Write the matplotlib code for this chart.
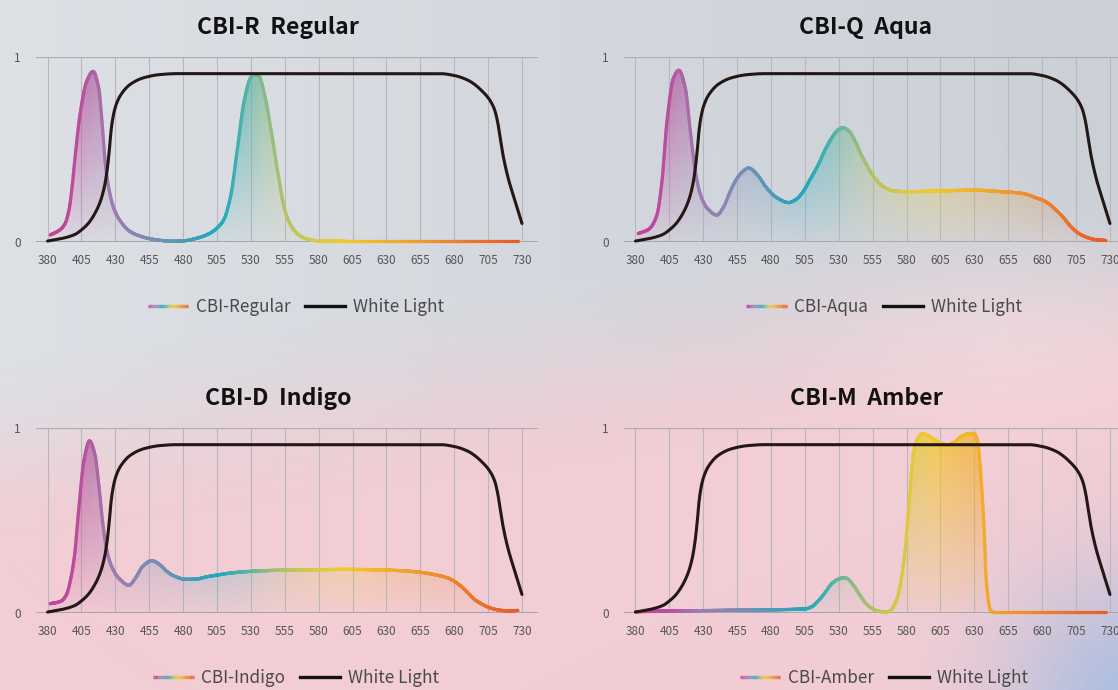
import numpy as np
import matplotlib
matplotlib.use("Agg")
from matplotlib import pyplot as plt
from matplotlib.collections import LineCollection
from matplotlib.colors import LinearSegmentedColormap, to_rgb
from matplotlib.legend_handler import HandlerBase
from matplotlib.patches import Polygon

plt.rcParams['font.family'] = ['Noto Sans CJK SC', 'DejaVu Sans']

# wavelength ticks
ticks = list(range(380, 731, 25))

# white light reference (same in every panel)
white_x = [380, 390, 400, 405, 410, 415, 419, 422, 424, 425.5, 427, 429, 431, 434, 441, 451, 463, 475,
           670, 680, 690, 695, 700, 705, 708, 710, 712, 714, 716, 720, 725, 730]
white_y = [0.005, 0.018, 0.04, 0.065, 0.10, 0.155, 0.22, 0.30, 0.39, 0.49, 0.61, 0.70, 0.75, 0.795, 0.852, 0.888,
           0.905, 0.91, 0.91, 0.90, 0.875, 0.852, 0.82, 0.78, 0.745, 0.71, 0.65, 0.56, 0.47, 0.34, 0.22, 0.10]

regular_x = [382, 389, 393, 396, 398, 400.5, 404, 409, 413.6, 417.8, 420.2, 422.7, 425.2, 429, 434, 441, 447, 454,
             462, 472, 480, 490, 500, 505, 510, 515, 520, 525, 530, 533, 536, 540, 545, 550, 555, 560, 565, 570,
             575, 580, 600, 727]
regular_y = [0.038, 0.065, 0.10, 0.18, 0.29, 0.47, 0.69, 0.87, 0.922, 0.83, 0.65, 0.42, 0.29, 0.18, 0.11, 0.056,
             0.035, 0.02, 0.01, 0.004, 0.006, 0.02, 0.048, 0.075, 0.12, 0.245, 0.5, 0.76, 0.89, 0.905, 0.895, 0.80,
             0.60, 0.37, 0.174, 0.084, 0.04, 0.02, 0.01, 0.006, 0.004, 0.004]

aqua_x = [382, 390, 395.8, 399.5, 403.2, 408, 412, 416.8, 420.5, 424.2, 428, 433, 440, 445, 450, 455, 459, 463.5,
          470, 477, 485, 493, 498, 503, 509, 515, 520, 525, 529, 533, 538, 542, 546, 550, 555, 560, 565, 570, 580,
          600, 630, 650, 665, 670, 675, 680, 685, 690, 695, 700, 705, 710, 715, 720, 727]
aqua_y = [0.045, 0.07, 0.146, 0.326, 0.65, 0.885, 0.928, 0.83, 0.596, 0.38, 0.254, 0.182, 0.146, 0.19, 0.275, 0.345,
          0.38, 0.40, 0.362, 0.29, 0.236, 0.213, 0.228, 0.265, 0.34, 0.42, 0.50, 0.565, 0.603, 0.618, 0.595, 0.545,
          0.48, 0.424, 0.36, 0.317, 0.29, 0.277, 0.272, 0.275, 0.28, 0.272, 0.263, 0.254, 0.24, 0.227, 0.206,
          0.174, 0.138, 0.093, 0.057, 0.034, 0.02, 0.012, 0.008]

indigo_x = [382, 390, 394, 397, 400, 403, 407, 411, 415, 418, 421, 424, 428, 433, 440, 445, 450, 457, 463, 468, 474,
            482, 490, 497, 505, 515, 530, 550, 580, 600, 620, 640, 655, 665, 675, 680, 685, 690, 695, 700, 705, 710,
            715, 720, 727]
indigo_y = [0.05, 0.064, 0.10, 0.18, 0.315, 0.56, 0.83, 0.93, 0.855, 0.68, 0.47, 0.33, 0.24, 0.185, 0.15, 0.19,
            0.25, 0.283, 0.26, 0.225, 0.198, 0.182, 0.184, 0.195, 0.205, 0.216, 0.225, 0.231, 0.234, 0.236, 0.234,
            0.229, 0.22, 0.208, 0.19, 0.172, 0.145, 0.11, 0.073, 0.05, 0.032, 0.02, 0.014, 0.011, 0.014]

amber_x = [380, 400, 450, 505, 510, 515, 520, 525, 530, 533, 536, 540, 545, 550, 555, 560, 565, 568, 570, 573, 575,
           578, 580, 583, 585, 588, 592, 595, 600, 605, 610, 615, 620, 625, 628, 630, 632, 634, 635, 636, 637.5,
           638.5, 640, 641.5, 643.5, 660, 727]
amber_y = [0.007, 0.01, 0.015, 0.022, 0.034, 0.067, 0.112, 0.16, 0.184, 0.19, 0.187, 0.157, 0.103, 0.052, 0.022,
           0.009, 0.005, 0.013, 0.031, 0.08, 0.139, 0.283, 0.427, 0.70, 0.86, 0.94, 0.968, 0.962, 0.94, 0.917, 0.91,
           0.922, 0.953, 0.968, 0.971, 0.968, 0.94, 0.82, 0.72, 0.61, 0.40, 0.21, 0.085, 0.022, 0.005, 0.005, 0.005]

titles = ['CBI-R  Regular', 'CBI-Q  Aqua', 'CBI-D  Indigo', 'CBI-M  Amber']
labels = ['CBI-Regular', 'CBI-Aqua', 'CBI-Indigo', 'CBI-Amber']
series = [(regular_x, regular_y), (aqua_x, aqua_y), (indigo_x, indigo_y), (amber_x, amber_y)]

# spectrum colours by wavelength
spec_stops = [(380, '#c8409a'), (405, '#b8509e'), (425, '#a07aae'), (445, '#8c86b2'), (465, '#6d92b6'),
              (490, '#3c9fbb'), (505, '#1faabf'), (525, '#4cb2a8'), (540, '#86bb8a'), (555, '#b2c264'),
              (575, '#d6c945'), (600, '#f2c928'), (630, '#f2b12a'), (660, '#ef972c'), (700, '#ea722c'),
              (730, '#e85a2a')]
spec_cmap = LinearSegmentedColormap.from_list(
    'spec', [((w - 380) / 350, c) for w, c in spec_stops])


def pchip(x, y, xn):
    x = np.asarray(x, float)
    y = np.asarray(y, float)
    h = np.diff(x)
    d = np.diff(y) / h
    m = np.zeros_like(y)
    for k in range(1, len(x) - 1):
        if d[k - 1] * d[k] > 0:
            w1 = 2 * h[k] + h[k - 1]
            w2 = h[k] + 2 * h[k - 1]
            m[k] = (w1 + w2) / (w1 / d[k - 1] + w2 / d[k])
    m[0] = d[0]
    m[-1] = d[-1]
    i = np.clip(np.searchsorted(x, xn) - 1, 0, len(x) - 2)
    t = (xn - x[i]) / h[i]
    return ((2 * t**3 - 3 * t**2 + 1) * y[i] + (t**3 - 2 * t**2 + t) * h[i] * m[i]
            + (-2 * t**3 + 3 * t**2) * y[i + 1] + (t**3 - t**2) * h[i] * m[i + 1])


class GradientLine:
    pass


class GradientHandler(HandlerBase):
    def create_artists(self, legend, orig_handle, xdescent, ydescent, width, height, fontsize, trans):
        xs = np.linspace(-xdescent, width - xdescent, 40)
        pts = np.array([xs, np.full_like(xs, height / 2 - ydescent)]).T.reshape(-1, 1, 2)
        segs = np.concatenate([pts[:-1], pts[1:]], axis=1)
        lc = LineCollection(segs, colors=spec_cmap(np.linspace(0, 1, len(segs))),
                            linewidths=2.4, transform=trans)
        return [lc]


def background(fig):
    H, W = 690, 1118
    yy, xx = np.mgrid[0:H, 0:W].astype(float)
    grey_l = np.array(to_rgb('#dde0e5'))
    grey_r = np.array(to_rgb('#cbd0d7'))
    pink = np.array(to_rgb('#f2cdd4'))
    grey = grey_l + (grey_r - grey_l) * (xx / W)[..., None]
    yc = 455 - 0.14 * xx
    t = np.clip((yy - yc) / 220 + 0.5, 0, 1)
    t = t * t * (3 - 2 * t)
    img = grey * (1 - t[..., None]) + pink * t[..., None]
    glow = 0.35 * np.exp(-(((xx - 1000) / 180) ** 2 + ((yy - 340) / 90) ** 2))
    img = img * (1 - glow[..., None]) + np.array(to_rgb('#f8e4e6')) * glow[..., None]
    blue = np.exp(-(((xx - 1130) ** 2 + (yy - 700) ** 2) / (2 * 90.0 ** 2)))
    img = img * (1 - blue[..., None]) + np.array(to_rgb('#aebfe0')) * blue[..., None]
    bg = fig.add_axes([0, 0, 1, 1], zorder=-10)
    bg.imshow(img, aspect='auto', extent=[0, 1, 0, 1], interpolation='bilinear')
    bg.axis('off')


def draw_panel(ax, title, label, sx, sy):
    ax.set_facecolor('none')
    for s in ax.spines.values():
        s.set_visible(False)
    ax.vlines(ticks, 0, 1, color='#b8b8bc', lw=0.8, zorder=1)
    ax.axhline(1, color='#aeaeb2', lw=0.9, zorder=1)
    ax.axhline(0, color='#a6a6ab', lw=1.4, zorder=1)

    xs = np.linspace(sx[0], sx[-1], 1400)
    ys = pchip(sx, sy, xs)

    # gradient fill under the curve
    gx = np.linspace(380, 730, 400)
    gy = np.linspace(0, 1, 200)
    rgba = np.zeros((len(gy), len(gx), 4))
    rgba[..., :3] = spec_cmap((gx - 380) / 350)[None, :, :3]
    rgba[..., 3] = (0.04 + 0.72 * gy)[:, None]
    poly = Polygon(np.column_stack([np.r_[xs, xs[-1], xs[0]], np.r_[ys, 0, 0]]),
                   closed=True, facecolor='none', edgecolor='none')
    ax.add_patch(poly)
    im = ax.imshow(rgba, extent=[380, 730, 0, 1], origin='lower', aspect='auto',
                   interpolation='bilinear', zorder=2)
    im.set_clip_path(poly)

    pts = np.array([xs, ys]).T.reshape(-1, 1, 2)
    segs = np.concatenate([pts[:-1], pts[1:]], axis=1)
    cols = spec_cmap((0.5 * (xs[:-1] + xs[1:]) - 380) / 350)
    lc = LineCollection(segs, colors=cols, linewidths=2.3, capstyle='round',
                        joinstyle='round', zorder=3, clip_on=False)
    ax.add_collection(lc)

    wx = np.linspace(white_x[0], white_x[-1], 1400)
    ax.plot(wx, pchip(white_x, white_y, wx), color='#231815', lw=2.2,
            solid_capstyle='round', zorder=4, clip_on=False)

    ax.set_xlim(371.5, 741.8)
    ax.set_ylim(0, 1)
    ax.set_xticks(ticks)
    ax.set_xticklabels([str(t) for t in ticks])
    ax.set_yticks([0, 1])
    ax.set_yticklabels(['0', '1'])
    ax.tick_params(axis='x', length=0, pad=9, labelsize=8.5, labelcolor='#555555')
    ax.tick_params(axis='y', length=0, pad=11, labelsize=8.5, labelcolor='#555555')

    ax.text(0.482, 1.16, title, transform=ax.transAxes, ha='center', va='center',
            fontsize=16.6, fontweight='bold', color='#111111')

    black = plt.Line2D([], [], color='#111111', lw=2.4)
    ax.legend([GradientLine(), black], [label, 'White Light'],
              handler_map={GradientLine: GradientHandler()},
              loc='center', bbox_to_anchor=(0.518, -0.351), ncol=2, frameon=False,
              fontsize=12.3, labelcolor='#4a4a4a', handlelength=2.35, handletextpad=0.45,
              columnspacing=0.85)


def main():
    fig = plt.figure(figsize=(11.18, 6.9), dpi=100)
    background(fig)
    boxes = [[0.0322, 0.6493, 0.449, 0.2681], [0.5581, 0.6493, 0.449, 0.2681],
             [0.0322, 0.1116, 0.449, 0.2681], [0.5581, 0.1116, 0.449, 0.2681]]
    for box, title, label, (sx, sy) in zip(boxes, titles, labels, series):
        ax = fig.add_axes(box)
        draw_panel(ax, title, label, sx, sy)
    fig.savefig('out.png', dpi=100)


if __name__ == "__main__":
    main()
